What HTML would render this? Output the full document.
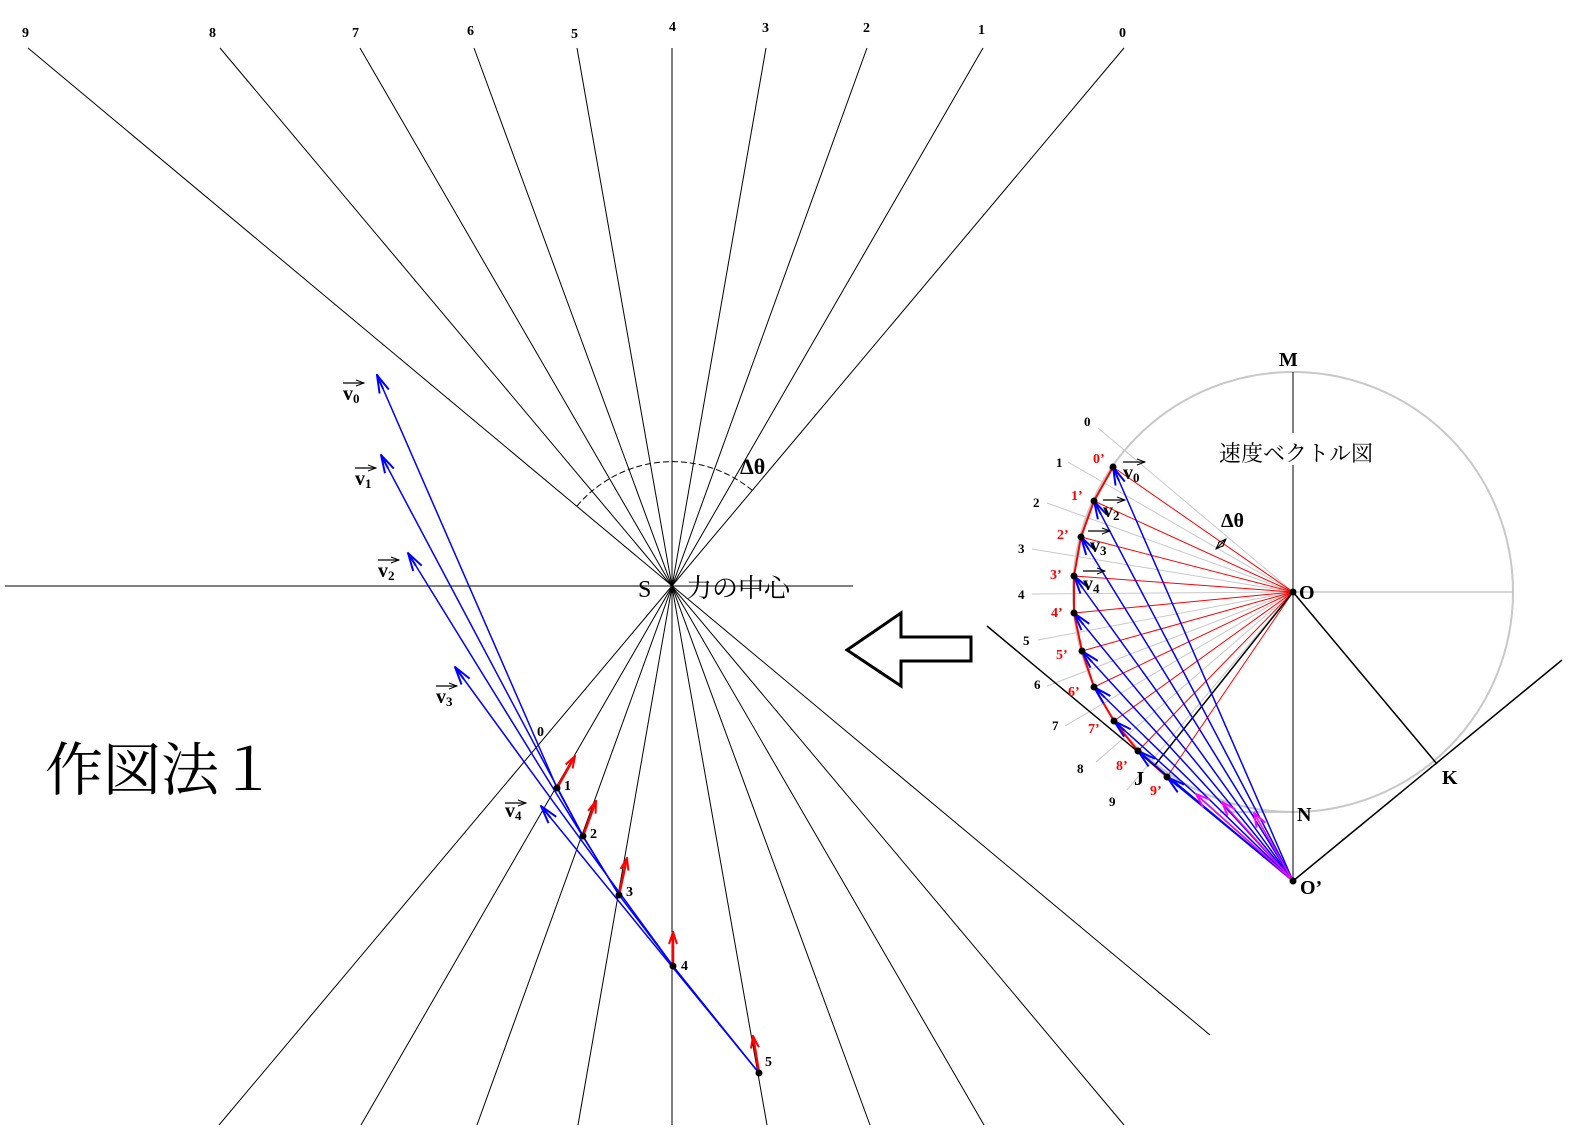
<!DOCTYPE html>
<html><head><meta charset="utf-8"><style>
html,body{margin:0;padding:0;background:#fff;}
svg{display:block;}
text{font-family:"Liberation Serif","Noto Serif CJK JP",serif;}
</style></head><body>
<svg width="1572" height="1140" viewBox="0 0 1572 1140" xmlns="http://www.w3.org/2000/svg">
<defs>
<marker id="ab" viewBox="0 0 20 12" refX="19" refY="6" markerWidth="20" markerHeight="12" markerUnits="userSpaceOnUse" orient="auto"><path d="M1,1 L19,6 L1,11 M4,6 L19,6" fill="none" stroke="#0000ff" stroke-width="2"/></marker>
<marker id="ar" viewBox="0 0 14 10" refX="13" refY="5" markerWidth="14" markerHeight="10" markerUnits="userSpaceOnUse" orient="auto"><path d="M1,1 L13,5 L1,9" fill="none" stroke="#ff0000" stroke-width="2"/></marker>
<marker id="am" viewBox="0 0 16 12" refX="15" refY="6" markerWidth="16" markerHeight="12" markerUnits="userSpaceOnUse" orient="auto"><path d="M1,1 L15,6 L1,11" fill="none" stroke="#ff00ff" stroke-width="2"/></marker>
<marker id="ak" viewBox="0 0 10 8" refX="9" refY="4" markerWidth="10" markerHeight="8" markerUnits="userSpaceOnUse" orient="auto"><path d="M1,1 L9,4 L1,7" fill="none" stroke="#000" stroke-width="1"/></marker>
<marker id="ak0" viewBox="0 0 10 8" refX="1" refY="4" markerWidth="10" markerHeight="8" markerUnits="userSpaceOnUse" orient="auto"><path d="M9,1 L1,4 L9,7" fill="none" stroke="#000" stroke-width="1"/></marker>
</defs>

<!-- Left diagram rays -->
<g stroke="#000" stroke-width="1" fill="none">
<line x1="28" y1="48" x2="1210" y2="1035"/>
<line x1="220" y1="48" x2="1124" y2="1125"/>
<line x1="360" y1="48" x2="984" y2="1125"/>
<line x1="474" y1="48" x2="870" y2="1125"/>
<line x1="577" y1="48" x2="767" y2="1125"/>
<line x1="672" y1="48" x2="672" y2="1125"/>
<line x1="766" y1="48" x2="578" y2="1125"/>
<line x1="867" y1="48" x2="477" y2="1125"/>
<line x1="983" y1="48" x2="361" y2="1125"/>
<line x1="1124" y1="48" x2="219" y2="1125"/>
<line x1="5" y1="586" x2="853" y2="586"/>
<path d="M577,506 A125,125 0 0 1 753,491" stroke-dasharray="6,3"/>
</g>
<g font-size="14" font-weight="bold">
<text x="22" y="37">9</text><text x="209" y="37">8</text><text x="352" y="37">7</text><text x="467" y="35">6</text><text x="571" y="38">5</text><text x="669" y="31">4</text><text x="762" y="32">3</text><text x="863" y="32">2</text><text x="978" y="34">1</text><text x="1119" y="37">0</text>
</g>
<text x="740" y="474" font-size="22" font-weight="bold">Δθ</text>
<text x="638" y="597" font-size="24">S</text>
<text x="686" y="597" font-size="26" font-family="Liberation Serif,'Noto Serif CJK JP',serif">力の中心</text>

<!-- trajectory -->
<g stroke="#0000ff" stroke-width="1.5" fill="none">
<polyline points="759,1073 673,966 619,895 583,836 557,788"/>
<line x1="557" y1="788" x2="377" y2="375" marker-end="url(#ab)"/>
<line x1="583" y1="836" x2="381" y2="455" marker-end="url(#ab)"/>
<line x1="619" y1="895" x2="408" y2="553" marker-end="url(#ab)"/>
<line x1="673" y1="966" x2="455" y2="667" marker-end="url(#ab)"/>
<line x1="759" y1="1073" x2="541" y2="806" marker-end="url(#ab)"/>
</g>
<g stroke="#ff0000" stroke-width="2.5" fill="none">
<line x1="557" y1="788" x2="575" y2="756" marker-end="url(#ar)"/>
<line x1="583" y1="836" x2="596" y2="801" marker-end="url(#ar)"/>
<line x1="619" y1="895" x2="627" y2="858" marker-end="url(#ar)"/>
<line x1="673" y1="966" x2="673" y2="932" marker-end="url(#ar)"/>
<line x1="759" y1="1073" x2="753" y2="1036" marker-end="url(#ar)"/>
</g>
<g fill="#000">
<circle cx="557" cy="788" r="3.5"/><circle cx="583" cy="836" r="3.5"/><circle cx="619" cy="895" r="3.5"/><circle cx="673" cy="966" r="3.5"/><circle cx="759" cy="1073" r="3.5"/>
</g>
<g font-size="14" font-weight="bold">
<text x="564" y="790">1</text><text x="590" y="838">2</text><text x="626" y="896">3</text><text x="681" y="970">4</text><text x="765" y="1066">5</text><text x="537" y="736">0</text>
</g>
<!-- v labels -->
<g font-size="20" font-weight="bold">
<text x="343" y="400">v<tspan font-size="13" dy="3">0</tspan></text>
<text x="355" y="485">v<tspan font-size="13" dy="3">1</tspan></text>
<text x="378" y="577">v<tspan font-size="13" dy="3">2</tspan></text>
<text x="436" y="703">v<tspan font-size="13" dy="3">3</tspan></text>
<text x="505" y="817">v<tspan font-size="13" dy="3">4</tspan></text>
</g>
<g stroke="#000" stroke-width="1.2">
<line x1="343" y1="383" x2="364" y2="383" marker-end="url(#ak)"/>
<line x1="355" y1="468" x2="376" y2="468" marker-end="url(#ak)"/>
<line x1="378" y1="560" x2="399" y2="560" marker-end="url(#ak)"/>
<line x1="436" y1="686" x2="457" y2="686" marker-end="url(#ak)"/>
<line x1="505" y1="803" x2="526" y2="803" marker-end="url(#ak)"/>
</g>

<text x="45" y="790" font-size="58" font-family="'Noto Serif CJK JP','Noto Serif CJK SC',serif">作図法１</text>

<!-- big arrow -->
<polygon points="847,650 901,613 901,637 971,637 971,661 901,661 901,686" fill="#fff" stroke="#000" stroke-width="3"/>

<!-- Right diagram -->
<circle cx="1293" cy="592" r="220" fill="none" stroke="#c8c8c8" stroke-width="2"/>
<line x1="1293" y1="592" x2="1512" y2="592" stroke="#c8c8c8" stroke-width="1.5"/>
<line x1="1293" y1="812" x2="1220" y2="812" stroke="#c8c8c8" stroke-width="2"/>
<line x1="1293" y1="372" x2="1293" y2="433" stroke="#000" stroke-width="1"/>
<line x1="1293" y1="463" x2="1293" y2="881" stroke="#000" stroke-width="1"/>
<rect x="1215" y="437" width="165" height="28" fill="#fff"/>
<text x="1219" y="461" font-size="22" font-family="'Noto Serif CJK JP',serif">速度ベクトル図</text>
<g stroke="#c8c8c8" stroke-width="1">
<line x1="1098" y1="428" x2="1293" y2="592"/>
<line x1="1068" y1="462" x2="1293" y2="592"/>
<line x1="1047" y1="503" x2="1293" y2="592"/>
<line x1="1032" y1="549" x2="1293" y2="592"/>
<line x1="1032" y1="594" x2="1293" y2="592"/>
<line x1="1038" y1="640" x2="1293" y2="592"/>
<line x1="1047" y1="686" x2="1293" y2="592"/>
<line x1="1065" y1="726" x2="1293" y2="592"/>
<line x1="1096" y1="762" x2="1293" y2="592"/>
<line x1="1127" y1="790" x2="1293" y2="592"/>
</g>
<g font-size="13" font-weight="bold">
<text x="1084" y="426">0</text><text x="1056" y="467">1</text><text x="1033" y="507">2</text><text x="1018" y="553">3</text><text x="1018" y="599">4</text><text x="1023" y="645">5</text><text x="1034" y="689">6</text><text x="1052" y="730">7</text><text x="1077" y="773">8</text><text x="1109" y="806">9</text>
</g>
<g stroke="#ff0000" stroke-width="1">
<line x1="1113" y1="467" x2="1293" y2="592"/><line x1="1094" y1="501" x2="1293" y2="592"/><line x1="1081" y1="537" x2="1293" y2="592"/><line x1="1074" y1="576" x2="1293" y2="592"/><line x1="1074" y1="613" x2="1293" y2="592"/><line x1="1082" y1="651" x2="1293" y2="592"/><line x1="1094" y1="687" x2="1293" y2="592"/><line x1="1114" y1="721" x2="1293" y2="592"/><line x1="1138" y1="751" x2="1293" y2="592"/><line x1="1167" y1="777" x2="1293" y2="592"/>
</g>
<polyline points="1113,467 1094,501 1081,537 1074,576 1074,613 1082,651 1094,687 1114,721 1138,751 1167,777" fill="none" stroke="#ff0000" stroke-width="2"/>
<g stroke="#000" stroke-width="1.5" fill="none">
<line x1="987" y1="626" x2="1293" y2="881"/>
<line x1="1293" y1="592" x2="1155" y2="765"/>
<line x1="1293" y1="592" x2="1437" y2="764"/>
<line x1="1293" y1="881" x2="1562" y2="660"/>
</g>
<g stroke="#0000ff" stroke-width="1.5" fill="none">
<line x1="1293" y1="881" x2="1113" y2="467" marker-end="url(#ab)"/>
<line x1="1293" y1="881" x2="1094" y2="501" marker-end="url(#ab)"/>
<line x1="1293" y1="881" x2="1081" y2="537" marker-end="url(#ab)"/>
<line x1="1293" y1="881" x2="1074" y2="576" marker-end="url(#ab)"/>
<line x1="1293" y1="881" x2="1074" y2="613" marker-end="url(#ab)"/>
<line x1="1293" y1="881" x2="1082" y2="651" marker-end="url(#ab)"/>
<line x1="1293" y1="881" x2="1094" y2="687" marker-end="url(#ab)"/>
<line x1="1293" y1="881" x2="1114" y2="721" marker-end="url(#ab)"/>
<line x1="1293" y1="881" x2="1138" y2="751" marker-end="url(#ab)"/>
<line x1="1293" y1="881" x2="1167" y2="777" marker-end="url(#ab)"/>
</g>
<g stroke="#ff00ff" stroke-width="1.5" fill="none">
<line x1="1293" y1="881" x2="1196" y2="794" marker-end="url(#am)"/>
<line x1="1293" y1="881" x2="1222" y2="802" marker-end="url(#am)"/>
<line x1="1293" y1="881" x2="1254" y2="813" marker-end="url(#am)"/>
</g>
<g fill="#000">
<circle cx="1113" cy="467" r="3.5"/><circle cx="1094" cy="501" r="3.5"/><circle cx="1081" cy="537" r="3.5"/><circle cx="1074" cy="576" r="3.5"/><circle cx="1074" cy="613" r="3.5"/><circle cx="1082" cy="651" r="3.5"/><circle cx="1094" cy="687" r="3.5"/><circle cx="1114" cy="721" r="3.5"/><circle cx="1138" cy="751" r="3.5"/><circle cx="1167" cy="777" r="3.5"/>
<circle cx="1293" cy="592" r="3.5"/><circle cx="1293" cy="881" r="3.5"/>
</g>
<g font-size="14" font-weight="bold" fill="#ff0000">
<text x="1093" y="463">0’</text><text x="1071" y="500">1’</text><text x="1057" y="539">2’</text><text x="1050" y="579">3’</text><text x="1051" y="617">4’</text><text x="1056" y="659">5’</text><text x="1068" y="696">6’</text><text x="1088" y="733">7’</text><text x="1116" y="770">8’</text><text x="1150" y="795">9’</text>
</g>
<g font-size="20" font-weight="bold">
<text x="1123" y="479">v<tspan font-size="13" dy="3">0</tspan></text>
<text x="1103" y="517">v<tspan font-size="13" dy="3">2</tspan></text>
<text x="1090" y="552">v<tspan font-size="13" dy="3">3</tspan></text>
<text x="1083" y="590">v<tspan font-size="13" dy="3">4</tspan></text>
</g>
<g stroke="#000" stroke-width="1.2">
<line x1="1123" y1="462" x2="1145" y2="462" marker-end="url(#ak)"/>
<line x1="1103" y1="500" x2="1125" y2="500" marker-end="url(#ak)"/>
<line x1="1088" y1="531" x2="1110" y2="531" marker-end="url(#ak)"/>
<line x1="1083" y1="571" x2="1105" y2="571" marker-end="url(#ak)"/>
<line x1="1216" y1="549" x2="1226" y2="539" marker-end="url(#ak)" marker-start="url(#ak0)"/>
</g>
<text x="1221" y="527" font-size="20" font-weight="bold">Δθ</text>
<g font-size="20" font-weight="bold">
<text x="1279" y="366">M</text>
<text x="1299" y="599">O</text>
<text x="1297" y="821">N</text>
<text x="1442" y="784">K</text>
<text x="1300" y="894">O’</text>
<text x="1134" y="785">J</text>
</g>
</svg>
</body></html>
